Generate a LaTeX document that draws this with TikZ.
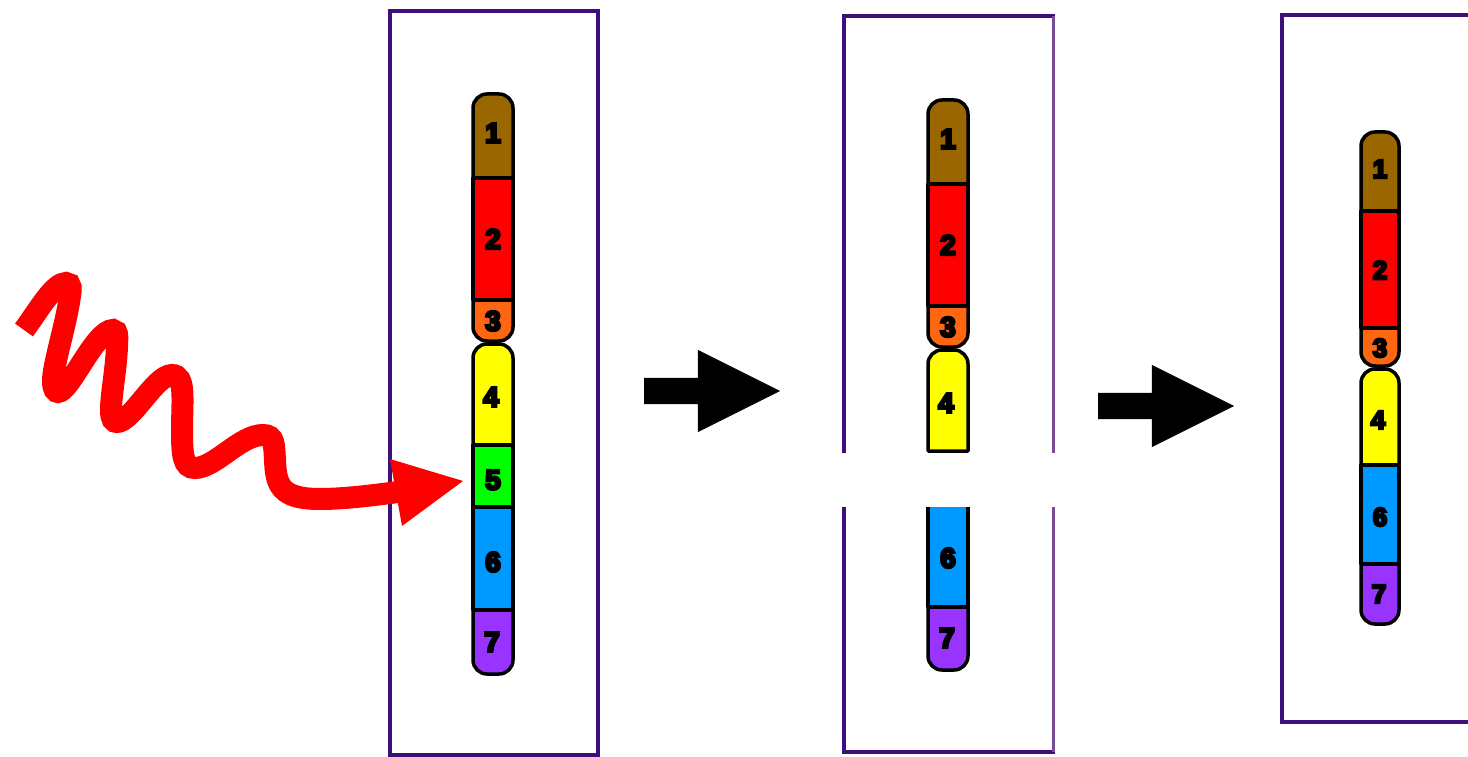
\documentclass[tikz,border=0pt]{standalone}
\usepackage{fontspec}
\usepackage{tikz}
\usetikzlibrary{shapes.arrows}
\newfontfamily\numfont[FakeBold=9]{Liberation Sans Bold}
\definecolor{framepurple}{HTML}{3D0F78}
\definecolor{framelight}{HTML}{7B4A94}
\definecolor{bandbrown}{HTML}{996600}
\definecolor{bandred}{HTML}{FF0000}
\definecolor{bandorange}{HTML}{FF6611}
\definecolor{bandyellow}{HTML}{FFFF00}
\definecolor{bandgreen}{HTML}{00FF00}
\definecolor{bandblue}{HTML}{0099FF}
\definecolor{bandpurple}{HTML}{9933FF}
% centre x, half width, top, bottom, colour
\newcommand{\topband}[5]{
	\draw[band, fill=#5] (#1-#2,#4) [rounded corners=14pt] -- (#1-#2,#3) -- (#1+#2,#3) [sharp corners] -- (#1+#2,#4) -- cycle;
}
\newcommand{\botband}[5]{
	\draw[band, fill=#5] (#1-#2,#3) [rounded corners=14pt] -- (#1-#2,#4) -- (#1+#2,#4) [sharp corners] -- (#1+#2,#3) -- cycle;
}
\newcommand{\midband}[5]{
	\draw[band, fill=#5] (#1-#2,#3) rectangle (#1+#2,#4);
}
\begin{document}
\begin{tikzpicture}[x=1pt,y=-1pt]
	\tikzstyle{band}=[draw=black, line width=3.5pt, line join=round]
	\tikzstyle{num}=[inner sep=0pt, font=\numfont\fontsize{28}{28}\selectfont]
	\tikzstyle{numsmall}=[inner sep=0pt, font=\numfont\fontsize{26}{26}\selectfont]
	\tikzstyle{frame}=[draw=framepurple, line width=4.5pt, line cap=rect, fill=white]
	\tikzstyle{stepmark}=[single arrow, fill=black, inner xsep=0pt, inner ysep=13pt, minimum width=82pt, minimum height=136pt, single arrow head extend=28pt, single arrow tip angle=53.13]
	\useasboundingbox (0,0) rectangle (1468,757);

	% first panel, whole chromosome
	\draw[frame] (390,11) rectangle (598,755);
	\topband{493}{20}{94}{178}{bandbrown}
	\midband{493}{20}{178}{300}{bandred}
	\botband{493}{20}{300}{341}{bandorange}
	\topband{493}{20}{344}{445}{bandyellow}
	\midband{493}{20}{445}{507}{bandgreen}
	\midband{493}{20}{507}{610}{bandblue}
	\botband{493}{20}{610}{674}{bandpurple}
	\node[num] (a1) at (493,133) {1};
	\node[num] (a2) at (493,239) {2};
	\node[num] (a3) at (493,321) {3};
	\node[num] (a4) at (491,397) {4};
	\node[num] (a5) at (493,480) {5};
	\node[num] (a6) at (493,562) {6};
	\node[num] (a7) at (492,642) {7};

	% second panel, band 5 cut out
	\draw[frame] (1053,16) -- (844,16) -- (844,752) -- (1053,752);
	\draw[draw=framelight, line width=3pt] (1053,16) -- (1053,752);
	\topband{948}{20}{100}{184}{bandbrown}
	\midband{948}{20}{184}{306}{bandred}
	\botband{948}{20}{306}{347}{bandorange}
	\topband{948}{20}{350}{451}{bandyellow}
	\midband{948}{20}{490}{607}{bandblue}
	\botband{948}{20}{607}{670}{bandpurple}
	\fill[white] (815,453) rectangle (1062,507);
	\node[num] (b1) at (948,139) {1};
	\node[num] (b2) at (948,245) {2};
	\node[num] (b3) at (948,327) {3};
	\node[num] (b4) at (946,403) {4};
	\node[num] (b6) at (948,558) {6};
	\node[num] (b7) at (947,638) {7};

	% third panel, rejoined chromosome
	\draw[frame] (1470,15) -- (1282,15) -- (1282,722) -- (1470,722);
	\topband{1380}{19}{132}{211}{bandbrown}
	\midband{1380}{19}{211}{328}{bandred}
	\botband{1380}{19}{328}{366}{bandorange}
	\topband{1380}{19}{369}{465}{bandyellow}
	\midband{1380}{19}{465}{564}{bandblue}
	\botband{1380}{19}{564}{624}{bandpurple}
	\node[numsmall] (c1) at (1380,169) {1};
	\node[numsmall] (c2) at (1380,270) {2};
	\node[numsmall] (c3) at (1380,348) {3};
	\node[numsmall] (c4) at (1378,420) {4};
	\node[numsmall] (c6) at (1380,517) {6};
	\node[numsmall] (c7) at (1379,594) {7};

	\node[stepmark] (stepone) at (699,391) {};
	\node[stepmark] (steptwo) at (1153,406) {};

	% the incoming ray
	\coordinate (raystart) at (24,330);
	\coordinate (rayend) at (398,492);
	\draw[bandred, line width=22pt] (raystart) .. controls (40,308) and (54,283) .. (66,283)
		.. controls (72,283) and (71,290) .. (70,296)
		.. controls (66,325) and (53,365) .. (53,381)
		.. controls (53,390) and (56,392) .. (58,392)
		.. controls (70,392) and (95,330) .. (113,330)
		.. controls (119,330) and (117,340) .. (117,347)
		.. controls (116,370) and (111,395) .. (111,410)
		.. controls (111,420) and (114,422) .. (117,422)
		.. controls (132,422) and (155,375) .. (172,375)
		.. controls (186,375) and (182,400) .. (182,430)
		.. controls (182,455) and (183,468) .. (195,468)
		.. controls (215,468) and (240,435) .. (263,435)
		.. controls (275,435) and (274,445) .. (275,460)
		.. controls (276,485) and (280,499) .. (320,499)
		.. controls (345,499) and (375,495) .. (rayend);
	\fill[bandred] (390,459) -- (463,481) -- (402,526) -- cycle;
\end{tikzpicture}
\end{document}
